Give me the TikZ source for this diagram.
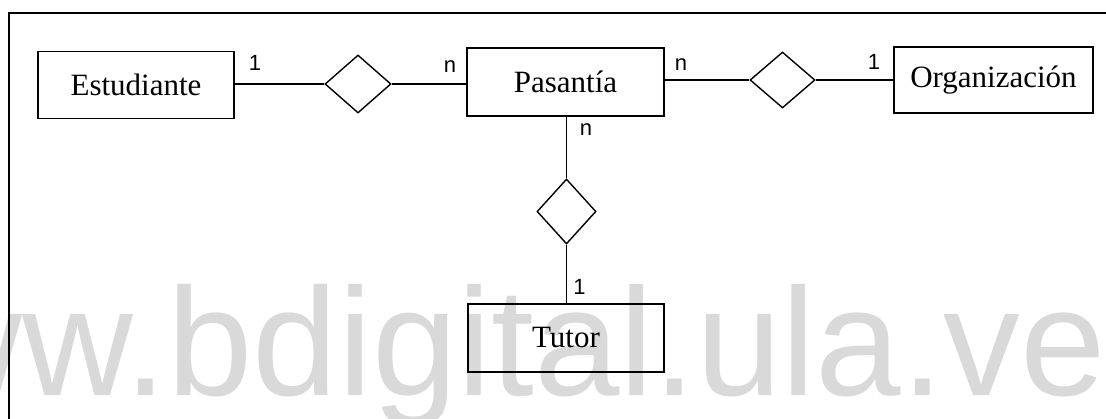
\documentclass[tikz,border=0pt]{standalone}
\usepackage{fontspec}
\setmainfont{Liberation Serif}
\newfontfamily\lblfont{Liberation Sans}
\usetikzlibrary{shapes.geometric}
\definecolor{wmgray}{RGB}{217,217,217}
\begin{document}
\begin{tikzpicture}[x=1pt,y=-1pt,
  entity/.style={draw, line width=1.4pt, rectangle, minimum width=196pt, minimum height=67pt, inner sep=0pt, font=\fontsize{31}{37}\selectfont},
  rel/.style={draw, line width=1.4pt, diamond, inner sep=0pt},
  card/.style={font=\lblfont\fontsize{22}{26}\selectfont, inner sep=0pt},
  conn/.style={line width=1.4pt},
  wmark/.style={anchor=base west, inner sep=0pt, text=wmgray, font=\lblfont\fontsize{153.5}{160}\selectfont}]
\useasboundingbox (0,0) rectangle (1106,419);
% watermark
\begin{scope}
  \clip (0,0) rectangle (1106,419);
  \node[wmark] (wm) at (-88.6,396) {ww.bdigital.ula.ve};
\end{scope}
% frame
\draw[line width=1.5pt] (9,419) -- (9,13) -- (1106,13);
% entities
\node[entity] (est) at (136,85) {Estudiante};
\node[entity, minimum width=197pt, minimum height=68pt] (pas) at (565.5,82) {Pasantía};
\node[entity, minimum width=199pt, minimum height=66pt] (org) at (993.5,80) {Organización};
\node[entity, minimum height=68pt] (tut) at (566,338) {Tutor};
% relationships
\node[rel, minimum width=66pt, minimum height=58pt] (r1) at (358,84) {};
\node[rel, minimum width=65pt, minimum height=56pt] (r2) at (782.5,80) {};
\node[rel, minimum width=59pt, minimum height=65pt] (r3) at (566.5,211.5) {};
% connectors
\draw[conn] (est.east |- r1.west) -- (r1.west);
\draw[conn] (r1.east) -- (r1.east -| pas.west);
\draw[conn] (pas.east |- r2.west) -- (r2.west);
\draw[conn] (r2.east) -- (org.west);
\draw[conn] (pas.south -| r3.north) -- (r3.north);
\draw[conn] (r3.south) -- (r3.south |- tut.north);
% cardinalities
\node[card] (c1) at (255,62.5) {1};
\node[card] (c2) at (450,66.5) {n};
\node[card] (c3) at (681,64.5) {n};
\node[card] (c4) at (874,61.5) {1};
\node[card] (c5) at (586,130) {n};
\node[card] (c6) at (579.5,286.5) {1};
\end{tikzpicture}
\end{document}
